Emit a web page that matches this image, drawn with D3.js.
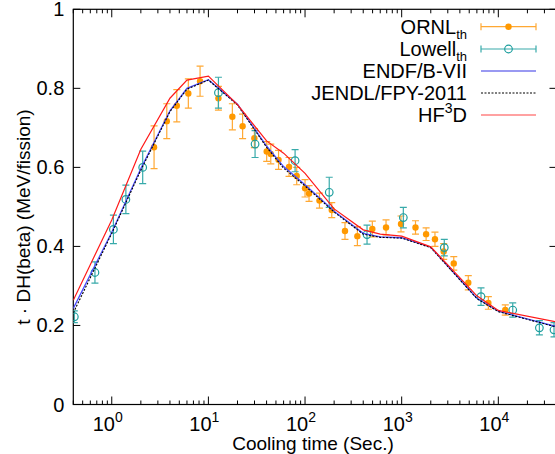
<!DOCTYPE html>
<html><head><meta charset="utf-8">
<script src="https://cdn.jsdelivr.net/npm/d3@7"></script>
<style>
html,body{margin:0;padding:0;background:#fff;}
svg{display:block;font-family:"Liberation Sans",Arial,Helvetica,sans-serif;}
</style></head>
<body><svg id="c" width="555" height="454"></svg>
<script>
// ---- data ----
const ornlTime  = [2.74,3.71,4.71,6.20,8.20,12.7,17.7,22.6,29.9,40.1,44.2,53.2,68.3,82.0,100,110,141,189,259,348,497,689,984,1390,1790,2210,2720,3460,4890,7890,11800];
const ornlValue = [0.651,0.717,0.756,0.787,0.818,0.775,0.728,0.704,0.674,0.640,0.634,0.619,0.601,0.578,0.547,0.534,0.516,0.492,0.439,0.426,0.444,0.448,0.457,0.448,0.431,0.418,0.387,0.357,0.308,0.257,0.239];
const ornlError = [0.054,0.044,0.041,0.037,0.038,0.030,0.033,0.031,0.024,0.025,0.025,0.024,0.024,0.022,0.022,0.020,0.019,0.019,0.021,0.024,0.020,0.019,0.020,0.017,0.016,0.018,0.020,0.017,0.018,0.016,0.013];

const lowellTime  = [0.41,0.67,1.04,1.40,2.09,12.7,30.4,78.9,178,438,1040,2760,6620,14100,26600,37700];
const lowellValue = [0.222,0.334,0.443,0.519,0.600,0.789,0.659,0.617,0.537,0.430,0.473,0.397,0.273,0.239,0.194,0.189];
const lowellError = [0.015,0.027,0.036,0.036,0.041,0.039,0.034,0.028,0.038,0.024,0.026,0.021,0.022,0.018,0.018,0.018];

const modelTime  = [0.4,1,2,4,6,10,20,40,60,100,200,400,600,1000,2000,6000,10000,40000];
const endfValue  = [0.243,0.436,0.597,0.743,0.800,0.822,0.760,0.654,0.602,0.556,0.489,0.433,0.424,0.422,0.398,0.269,0.236,0.197];
const jendlValue = [0.232,0.433,0.593,0.741,0.798,0.821,0.758,0.651,0.598,0.553,0.487,0.431,0.423,0.421,0.397,0.268,0.235,0.196];
const hf3dValue  = [0.264,0.467,0.646,0.775,0.821,0.831,0.759,0.667,0.636,0.585,0.495,0.442,0.431,0.426,0.399,0.275,0.238,0.209];

const yTicks = [0,0.2,0.4,0.6,0.8,1];
const yTickLabels = ["0","0.2","0.4","0.6","0.8","1"];
const xTickExponents = [0,1,2,3,4];

const legendLabels = [["ORNL","th",""],["Lowell","th",""],["ENDF/B-VII","",""],["JENDL/FPY-2011","",""],["HF","","3D"]];

// ---- layout ----
const L = 73.3, R = 556.5, T = 9.3, B = 404.5;
const svg = d3.select("#c");
const x = d3.scaleLog().domain([0.4, 40000]).range([L, R]);
const y = d3.scaleLinear().domain([0, 1]).range([B, T]);

const cOrange = "#ff9900", cOrangeBar = "#ffa833";
const cTeal = "#1c9e9e", cTealBar = "#38aaaa";
const cBlue = "#4d4dff", cRed = "#ff1a1a";

svg.append("clipPath").attr("id","clip").append("rect")
  .attr("x",L).attr("y",T).attr("width",R-L).attr("height",B-T);

// axes (ticks inward)
const axisG = svg.append("g");
const xTicksAll = [];
for (let e = -1; e <= 4; e++) for (let k = 1; k <= 9; k++) {
  const v = k * Math.pow(10, e);
  if (v >= 0.4 && v <= 40000) xTicksAll.push({v, major: k === 1});
}
xTicksAll.forEach(t => {
  const px = x(t.v), len = t.major ? 8 : 4;
  axisG.append("line").attr("x1",px).attr("x2",px).attr("y1",B).attr("y2",B-len).attr("stroke","#000").attr("stroke-width",1);
  axisG.append("line").attr("x1",px).attr("x2",px).attr("y1",T).attr("y2",T+len).attr("stroke","#000").attr("stroke-width",1);
});
yTicks.forEach(v => {
  axisG.append("line").attr("x1",L).attr("x2",L+7).attr("y1",y(v)).attr("y2",y(v)).attr("stroke","#000");
  axisG.append("line").attr("x1",R).attr("x2",R-7).attr("y1",y(v)).attr("y2",y(v)).attr("stroke","#000");
});
axisG.append("rect").attr("x",L).attr("y",T).attr("width",R-L).attr("height",B-T)
  .attr("fill","none").attr("stroke","#000").attr("stroke-width",1.2);

// tick labels
yTicks.forEach((v,i) => {
  svg.append("text").attr("x",L-9).attr("y",y(v)+7).attr("text-anchor","end")
    .attr("font-size",20).text(yTickLabels[i]);
});
xTickExponents.forEach(e => {
  const t = svg.append("text").attr("x",x(Math.pow(10,e))-4).attr("y",431).attr("text-anchor","middle").attr("font-size",20);
  t.append("tspan").text("10");
  t.append("tspan").attr("dy",-9).attr("font-size",14).text(String(e));
});
svg.append("text").attr("x",313).attr("y",450).attr("text-anchor","middle").attr("font-size",19).text("Cooling time (Sec.)");
svg.append("text").attr("transform","translate(30,217) rotate(-90)").attr("text-anchor","middle")
  .attr("font-size",19).text("t · DH(beta) (MeV/fission)");

const plot = svg.append("g").attr("clip-path","url(#clip)");

// ORNL
const ornl = ornlTime.map((t,i)=>({t, v:ornlValue[i], e:ornlError[i]}));
const og = plot.append("g");
ornl.forEach(d => {
  const px = x(d.t), y1 = y(d.v-d.e), y2 = y(d.v+d.e);
  og.append("line").attr("x1",px).attr("x2",px).attr("y1",y1).attr("y2",y2).attr("stroke",cOrangeBar).attr("stroke-width",1.2);
  og.append("line").attr("x1",px-3.5).attr("x2",px+3.5).attr("y1",y1).attr("y2",y1).attr("stroke",cOrangeBar).attr("stroke-width",1.2);
  og.append("line").attr("x1",px-3.5).attr("x2",px+3.5).attr("y1",y2).attr("y2",y2).attr("stroke",cOrangeBar).attr("stroke-width",1.2);
  og.append("circle").attr("cx",px).attr("cy",y(d.v)).attr("r",3.2).attr("fill",cOrange);
});
// Lowell
const low = lowellTime.map((t,i)=>({t, v:lowellValue[i], e:lowellError[i]}));
const lg = plot.append("g");
low.forEach(d => {
  const px = x(d.t), y1 = y(d.v-d.e), y2 = y(d.v+d.e);
  lg.append("line").attr("x1",px).attr("x2",px).attr("y1",y1).attr("y2",y2).attr("stroke",cTealBar).attr("stroke-width",1.2);
  lg.append("line").attr("x1",px-3.5).attr("x2",px+3.5).attr("y1",y1).attr("y2",y1).attr("stroke",cTealBar).attr("stroke-width",1.2);
  lg.append("line").attr("x1",px-3.5).attr("x2",px+3.5).attr("y1",y2).attr("y2",y2).attr("stroke",cTealBar).attr("stroke-width",1.2);
  lg.append("circle").attr("cx",px).attr("cy",y(d.v)).attr("r",3.8).attr("fill","none").attr("stroke",cTeal).attr("stroke-width",1.2);
});

// model lines
const line = d3.line().x(d=>x(d[0])).y(d=>y(d[1]));
plot.append("path").datum(modelTime.map((t,i)=>[t,endfValue[i]])).attr("d",line)
  .attr("fill","none").attr("stroke",cBlue).attr("stroke-width",1.3);
plot.append("path").datum(modelTime.map((t,i)=>[t,jendlValue[i]])).attr("d",line)
  .attr("fill","none").attr("stroke","#000").attr("stroke-width",1.1).attr("stroke-dasharray","2,1.5");
plot.append("path").datum(modelTime.map((t,i)=>[t,hf3dValue[i]])).attr("d",line)
  .attr("fill","none").attr("stroke",cRed).attr("stroke-width",1.2);

// legend
const legY = [26.7,49,71,93,115];
const lx1 = 481, lx2 = 536, lxm = 508.5, tx = 467;
legendLabels.forEach((lab,i) => {
  const yy = legY[i];
  const t = svg.append("text").attr("x",tx).attr("y",yy+7).attr("text-anchor","end").attr("font-size",20);
  t.append("tspan").text(lab[0]);
  if (lab[1]) t.append("tspan").attr("dy",5).attr("font-size",13).text(lab[1]);
  if (lab[2]) { t.append("tspan").attr("dy",-9).attr("font-size",14).text(lab[2][0]);
                t.append("tspan").attr("dy",9).text(lab[2].slice(1)); }
});
[[cOrangeBar,cOrange,true],[cTealBar,cTeal,false]].forEach((c,i)=>{
  const yy = legY[i];
  svg.append("line").attr("x1",lx1).attr("x2",lx2).attr("y1",yy).attr("y2",yy).attr("stroke",c[0]).attr("stroke-width",1.2);
  svg.append("line").attr("x1",lx1).attr("x2",lx1).attr("y1",yy-3.5).attr("y2",yy+3.5).attr("stroke",c[0]).attr("stroke-width",1.2);
  svg.append("line").attr("x1",lx2).attr("x2",lx2).attr("y1",yy-3.5).attr("y2",yy+3.5).attr("stroke",c[0]).attr("stroke-width",1.2);
  if (c[2]) svg.append("circle").attr("cx",lxm).attr("cy",yy).attr("r",3.2).attr("fill",c[1]);
  else svg.append("circle").attr("cx",lxm).attr("cy",yy).attr("r",3.8).attr("fill","none").attr("stroke",c[1]).attr("stroke-width",1.2);
});
svg.append("line").attr("x1",lx1).attr("x2",lx2).attr("y1",legY[2]).attr("y2",legY[2]).attr("stroke","#7777ee").attr("stroke-width",1.3);
svg.append("line").attr("x1",lx1).attr("x2",lx2).attr("y1",legY[3]).attr("y2",legY[3]).attr("stroke","#000").attr("stroke-width",1).attr("stroke-dasharray","2,1.5");
svg.append("line").attr("x1",lx1).attr("x2",lx2).attr("y1",legY[4]).attr("y2",legY[4]).attr("stroke","#ff4444").attr("stroke-width",1.2);
</script></body></html>
